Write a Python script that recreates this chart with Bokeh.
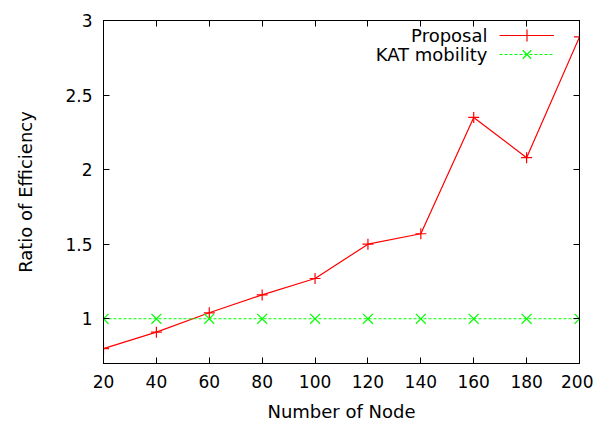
from bokeh.plotting import figure
from bokeh.models import (Range1d, FixedTicker, LinearAxis, Legend, LegendItem, Label)
from bokeh.embed import file_html
from bokeh.resources import INLINE

nodes = [20, 40, 60, 80, 100, 120, 140, 160, 180, 200]
proposal = [0.80, 0.91, 1.04, 1.16, 1.27, 1.50, 1.57, 2.35, 2.08, 2.89]
kat = [1, 1, 1, 1, 1, 1, 1, 1, 1, 1]
x_ticks = [20, 40, 60, 80, 100, 120, 140, 160, 180, 200]
x_tick_labels = ["20", "40", "60", "80", "100", "120", "140", "160", "180", "200"]
y_ticks = [1, 1.5, 2, 2.5, 3]
y_tick_labels = ["1", "1.5", "2", "2.5", "3"]
series_names = ["Proposal", "KAT mobility"]

FONT = "DejaVu Sans"
TICK_FS = "17px"
FS = "18px"
RED = "#ff0000"
GREEN = "#00ff00"

p = figure(width=593, height=424, output_backend="svg", toolbar_location=None,
           x_range=Range1d(20, 200), y_range=Range1d(0.7, 3),
           min_border_left=103, min_border_top=20, min_border_right=14, min_border_bottom=61)
p.xgrid.visible = False
p.ygrid.visible = False
p.outline_line_color = "black"
p.outline_line_width = 1
p.background_fill_color = "white"
p.border_fill_color = "white"

def style_axis(ax, ticks, labels, show):
    ax.ticker = FixedTicker(ticks=ticks)
    ax.minor_tick_line_color = None
    ax.major_tick_in = 6
    ax.major_tick_out = 0
    ax.major_tick_line_color = "black"
    ax.axis_line_color = "black"
    ax.major_label_text_font = FONT
    ax.major_label_text_font_size = TICK_FS
    ax.major_label_text_color = "black"
    if show:
        ax.major_label_overrides = {t: l for t, l in zip(ticks, labels)}
    else:
        ax.major_label_overrides = {t: "" for t in ticks}
        ax.major_label_standoff = 0

xa = p.xaxis[0]
ya = p.yaxis[0]
style_axis(xa, x_ticks, x_tick_labels, True)
style_axis(ya, y_ticks, y_tick_labels, True)
xa.major_label_standoff = 11
ya.major_label_standoff = 11
xa.axis_label = "Number of Node"
ya.axis_label = "Ratio of Efficiency"
for ax in (xa, ya):
    ax.axis_label_text_font = FONT
    ax.axis_label_text_font_size = FS
    ax.axis_label_text_font_style = "normal"
    ax.axis_label_text_color = "black"
xa.axis_label_standoff = 10
ya.axis_label_standoff = 26

top = LinearAxis()
right = LinearAxis()
style_axis(top, x_ticks, x_tick_labels, False)
style_axis(right, y_ticks, y_tick_labels, False)
p.add_layout(top, "above")
p.add_layout(right, "right")

l1 = p.line(nodes, proposal, line_color=RED, line_width=1.2)
m1 = p.scatter(nodes, proposal, marker="cross", size=11, line_color=RED, line_width=1.2)
l2 = p.line(nodes, kat, line_color=GREEN, line_width=1.2, line_dash="3 2")
m2 = p.scatter(nodes, kat, marker="x", size=14, line_color=GREEN, line_width=1.2)

# one legend box per series: glyph sample only, text drawn to its left
for rends, loc in zip([[l1, m1], [l2, m2]], [(396, 313), (396, 294)]):
    lg = Legend(items=[LegendItem(label="", renderers=rends)],
                location=loc, glyph_width=55, glyph_height=30,
                padding=0, margin=0, spacing=0, label_width=0, label_standoff=0,
                border_line_color=None, background_fill_alpha=0)
    p.add_layout(lg, "center")

for name, yy in zip(series_names, [328, 309]):
    p.add_layout(Label(x=384, y=yy, x_units="screen", y_units="screen", text=name,
                       text_align="right", text_baseline="middle",
                       text_font=FONT, text_font_size=FS, text_color="black"))

open("out.html", "w").write(file_html(p, INLINE))
